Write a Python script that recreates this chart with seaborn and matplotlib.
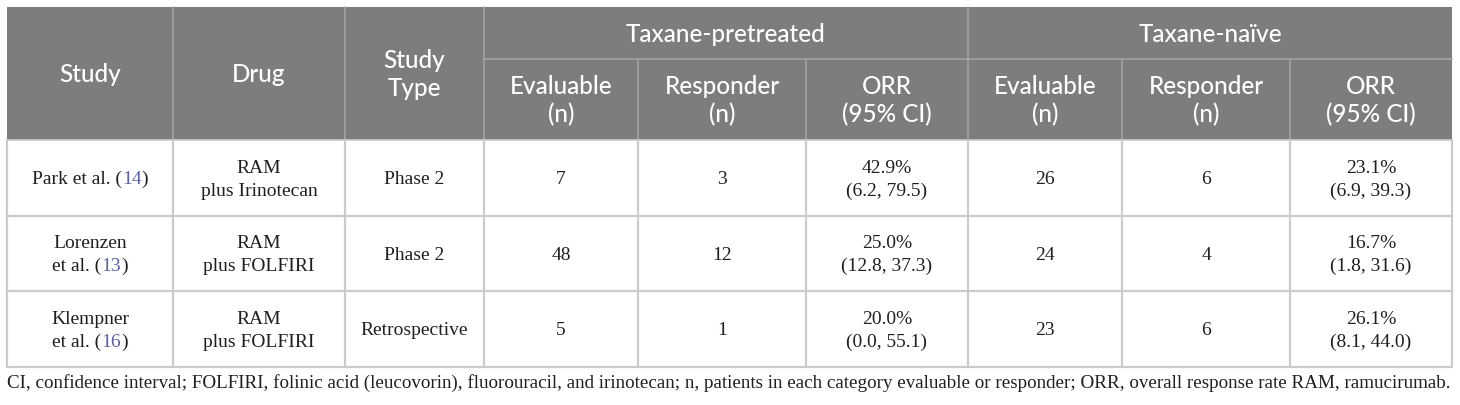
import matplotlib
matplotlib.use("Agg")
import matplotlib.pyplot as plt
import seaborn as sns
import pandas as pd
from matplotlib.patches import Rectangle

# =========================
# table content
# =========================

study_lines = [["Park et al."], ["Lorenzen", "et al."], ["Klempner", "et al."]]
study_refs = ["14", "13", "16"]
drugs = ["RAM\nplus Irinotecan", "RAM\nplus FOLFIRI", "RAM\nplus FOLFIRI"]
study_types = ["Phase 2", "Phase 2", "Retrospective"]

pre_evaluable = [7, 48, 5]
pre_responder = [3, 12, 1]
pre_orr = ["42.9%\n(6.2, 79.5)", "25.0%\n(12.8, 37.3)", "20.0%\n(0.0, 55.1)"]

naive_evaluable = [26, 24, 23]
naive_responder = [6, 4, 6]
naive_orr = ["23.1%\n(6.9, 39.3)", "16.7%\n(1.8, 31.6)", "26.1%\n(8.1, 44.0)"]

group_labels = ["Taxane-pretreated", "Taxane-naïve"]
fixed_headers = ["Study", "Drug", "Study\nType"]
sub_headers = ["Evaluable\n(n)", "Responder\n(n)", "ORR\n(95% CI)"]

footnote = ("CI, confidence interval; FOLFIRI, folinic acid (leucovorin), fluorouracil, and irinotecan; "
            "n, patients in each category evaluable or responder; ORR, overall response rate RAM, ramucirumab.")

df = pd.DataFrame({
    "drug": drugs, "type": study_types,
    "pre_eval": pre_evaluable, "pre_resp": pre_responder, "pre_orr": pre_orr,
    "nai_eval": naive_evaluable, "nai_resp": naive_responder, "nai_orr": naive_orr,
})

# =========================
# layout (pixel grid)
# =========================

col_x = [7, 173, 345, 484, 638, 806, 968, 1122, 1290, 1452]
row_y = [7, 59, 140, 216, 291, 367]

HEAD_BG = "#7d7d7d"
HEAD_LINE = "#a3a3a3"
BODY_LINE = "#cbcbcb"
REF_COLOR = "#5b5ea6"
TEXT = "#1f1f1f"

SANS = ["Lato", "DejaVu Sans"]
SERIF = ["Liberation Serif", "DejaVu Serif"]
HEAD_SIZE = 17.5
BODY_SIZE = 14
HEAD_SP = 28
BODY_SP = 23

sns.set_theme(style="white")

fig = plt.figure(figsize=(14.6, 4.05), dpi=100)
ax = fig.add_axes([0, 0, 1, 1])
ax.set_xlim(0, 1460)
ax.set_ylim(405, 0)
ax.axis("off")
renderer = fig.canvas.get_renderer()


def px(size):
    return size * 100 / 72


def block(xc, yc, lines, size, sp, color, family, cap=0.68, weight="normal"):
    n = len(lines)
    for i, line in enumerate(lines):
        y = yc + (i - (n - 1) / 2) * sp + px(size) * cap / 2
        ax.text(xc, y, line, ha="center", va="baseline", fontsize=size,
                color=color, family=family, fontweight=weight)


def text_width(s, size, family):
    t = ax.text(0, 0, s, fontsize=size, family=family)
    w = t.get_window_extent(renderer).width
    t.remove()
    return w


def rich_line(xc, y, parts, size, family):
    full = "".join(s for s, _ in parts)
    x0 = xc - text_width(full, size, family) / 2
    prefix = ""
    for s, c in parts:
        off = text_width(prefix + "x", size, family) - text_width("x", size, family) if prefix else 0
        ax.text(x0 + off, y, s, ha="left", va="baseline", fontsize=size, color=c, family=family)
        prefix += s


# header background
ax.add_patch(Rectangle((col_x[0], row_y[0]), col_x[-1] - col_x[0], row_y[2] - row_y[0],
                       facecolor=HEAD_BG, edgecolor="none"))

# header grid
for x in col_x[1:4] + [col_x[6]]:
    ax.plot([x, x], [row_y[0], row_y[2]], color=HEAD_LINE, lw=1.2)
for x in [col_x[4], col_x[5], col_x[7], col_x[8]]:
    ax.plot([x, x], [row_y[1], row_y[2]], color=HEAD_LINE, lw=1.2)
ax.plot([col_x[3], col_x[-1]], [row_y[1], row_y[1]], color=HEAD_LINE, lw=1.2)

# body grid
for x in col_x:
    ax.plot([x, x], [row_y[2], row_y[-1]], color=BODY_LINE, lw=1.6)
for y in row_y[3:]:
    ax.plot([col_x[0], col_x[-1]], [y, y], color=BODY_LINE, lw=1.6)
ax.plot([col_x[0], col_x[-1]], [row_y[2], row_y[2]], color=BODY_LINE, lw=1.2)

# header text
head_mid = (row_y[0] + row_y[2]) / 2
for j, label in enumerate(fixed_headers):
    xc = (col_x[j] + col_x[j + 1]) / 2
    block(xc, head_mid, label.split("\n"), HEAD_SIZE, HEAD_SP, "white", SANS, cap=0.72, weight="medium")

for g, label in enumerate(group_labels):
    xc = (col_x[3 + 3 * g] + col_x[6 + 3 * g]) / 2
    block(xc, (row_y[0] + row_y[1]) / 2, [label], HEAD_SIZE, HEAD_SP, "white", SANS, cap=0.72, weight="medium")
    for k, sub in enumerate(sub_headers):
        c = 3 + 3 * g + k
        xc = (col_x[c] + col_x[c + 1]) / 2
        block(xc, (row_y[1] + row_y[2]) / 2, sub.split("\n"), HEAD_SIZE, HEAD_SP, "white", SANS,
              cap=0.72, weight="medium")

# body text
cols = ["drug", "type", "pre_eval", "pre_resp", "pre_orr", "nai_eval", "nai_resp", "nai_orr"]
for i in range(len(df)):
    yc = (row_y[2 + i] + row_y[3 + i]) / 2
    # study column with coloured reference
    lines = study_lines[i]
    n = len(lines)
    xc = (col_x[0] + col_x[1]) / 2
    for k, line in enumerate(lines):
        y = yc + (k - (n - 1) / 2) * BODY_SP + px(BODY_SIZE) * 0.66 / 2
        if k == n - 1:
            rich_line(xc, y, [(line + " (", TEXT), (study_refs[i], REF_COLOR), (")", TEXT)],
                      BODY_SIZE, SERIF)
        else:
            ax.text(xc, y, line, ha="center", va="baseline", fontsize=BODY_SIZE,
                    color=TEXT, family=SERIF)
    for j, col in enumerate(cols):
        xc = (col_x[j + 1] + col_x[j + 2]) / 2
        block(xc, yc, str(df.loc[i, col]).split("\n"), BODY_SIZE, BODY_SP, TEXT, SERIF, cap=0.66)

# footnote, sized to the table width
fn = ax.text(col_x[0], 388, footnote, ha="left", va="baseline", fontsize=13,
             color=TEXT, family=SERIF)
w = fn.get_window_extent(renderer).width
fn.set_fontsize(13 * (col_x[-1] - col_x[0] - 8) / w)

fig.savefig("out.png", dpi=100, facecolor="white")
